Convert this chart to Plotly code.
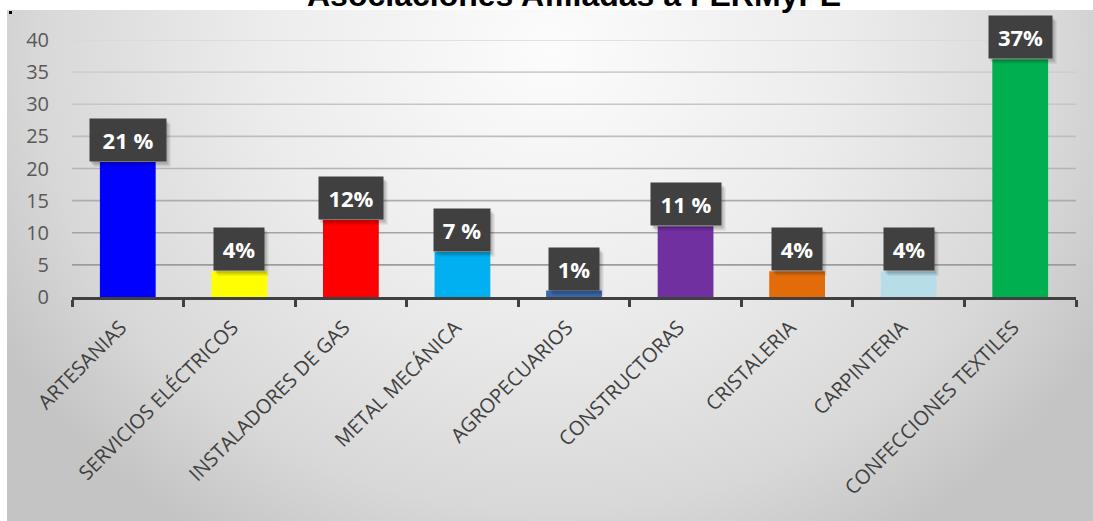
import base64
import plotly.graph_objects as go

# ---- data ----
categories = [
    "ARTESANIAS",
    "SERVICIOS ELÉCTRICOS",
    "INSTALADORES DE GAS",
    "METAL MECÁNICA",
    "AGROPECUARIOS",
    "CONSTRUCTORAS",
    "CRISTALERIA",
    "CARPINTERIA",
    "CONFECCIONES TEXTILES",
]
percentages = [21, 4, 12, 7, 1, 11, 4, 4, 37]
label_gap = [" ", "", "", " ", "", " ", "", "", ""]
y_ticks = [0, 5, 10, 15, 20, 25, 30, 35, 40]
title_text = "Asociaciones Afiliadas a FERMyPE"

# ---- styling ----
bar_colors = ["#0000FF", "#FFFF00", "#FF0000", "#00B0F0", "#3C69AE",
              "#7030A0", "#E36C0A", "#B7DDE8", "#00B050"]
label_box_widths = [76, 50, 64, 56, 50, 70, 50, 50, 63]
LABEL_BOX_H = 42

W, H = 1093, 521
ML, MR, MT, MB = 72, 17, 40, 224
PW, PH = W - ML - MR, H - MT - MB


def paper_x(px):
    return (px - ML) / PW


def paper_y(py):
    return (H - MB - py) / PH


# soft radial backdrop for the chart area
bg_w, bg_h = W - 7, H - 10
svg = f'''<svg xmlns="http://www.w3.org/2000/svg" width="{bg_w}" height="{bg_h}" viewBox="0 0 {bg_w} {bg_h}" preserveAspectRatio="none">
<defs><radialGradient id="g" gradientUnits="userSpaceOnUse" cx="{bg_w/2}" cy="40" r="640"
 gradientTransform="translate({bg_w/2} 40) scale(1 0.9) translate({-bg_w/2} -40)">
<stop offset="0" stop-color="#fcfcfc"/>
<stop offset="0.45" stop-color="#ececec"/>
<stop offset="0.8" stop-color="#d8d8d8"/>
<stop offset="1" stop-color="#c4c4c4"/>
</radialGradient></defs>
<rect x="0" y="0" width="{bg_w}" height="{bg_h}" fill="url(#g)"/>
</svg>'''
bg_src = "data:image/svg+xml;base64," + base64.b64encode(svg.encode()).decode()

fig = go.Figure()
fig.add_trace(go.Bar(
    x=categories,
    y=percentages,
    marker=dict(color=bar_colors, line=dict(width=0)),
    hoverinfo="skip",
))

shapes = []
# horizontal gridlines, lighter toward the top
for i, t in enumerate(y_ticks[1:]):
    frac = i / (len(y_ticks) - 2)
    g = int(0x9c + (0xd8 - 0x9c) * frac)
    shapes.append(dict(
        type="line", xref="paper", yref="y", x0=0, x1=1, y0=t, y1=t,
        line=dict(color=f"rgb({g},{g},{g})", width=1.6), layer="below",
    ))
# small marker dot in the corner of the chart area
shapes.append(dict(
    type="rect", xref="paper", yref="paper",
    x0=paper_x(9), x1=paper_x(12), y0=paper_y(14), y1=paper_y(11),
    fillcolor="#000000", line=dict(width=0),
))

annotations = []
for cat, v, gap, bw in zip(categories, percentages, label_gap, label_box_widths):
    # drop shadow behind the label box
    for dx, dy, a in [(4, -5, 0.10), (2, -3, 0.14)]:
        annotations.append(dict(
            x=cat, y=v, xref="x", yref="y", text="", showarrow=False,
            xanchor="center", yanchor="bottom", xshift=dx, yshift=dy,
            width=bw, height=LABEL_BOX_H, borderpad=0,
            bgcolor=f"rgba(0,0,0,{a})",
        ))
    annotations.append(dict(
        x=cat, y=v, xref="x", yref="y", text=f"{v}{gap}%", showarrow=False,
        xanchor="center", yanchor="bottom",
        width=bw, height=LABEL_BOX_H, borderpad=0, valign="middle",
        bgcolor="#404040",
        font=dict(family="Open Sans", size=22, color="#ffffff", weight=700),
    ))

# title, partly cut off by the top edge
annotations.append(dict(
    x=0.5, y=paper_y(15), xref="paper", yref="paper", text=f"<b>{title_text}</b>",
    showarrow=False, xanchor="center", yanchor="bottom",
    font=dict(family="Liberation Sans", size=32, color="#000000"),
))

fig.update_layout(
    width=W, height=H,
    margin=dict(l=ML, r=MR, t=MT, b=MB, pad=0),
    paper_bgcolor="#ffffff",
    plot_bgcolor="rgba(0,0,0,0)",
    showlegend=False,
    bargap=0.5,
    shapes=shapes,
    annotations=annotations,
    images=[dict(
        source=bg_src, xref="paper", yref="paper",
        x=paper_x(7), y=paper_y(10), sizex=bg_w / PW, sizey=bg_h / PH,
        xanchor="left", yanchor="top", sizing="stretch", layer="below",
    )],
    xaxis=dict(
        showgrid=False, zeroline=False,
        showline=True, linecolor="#404040", linewidth=3,
        ticks="outside", tickson="boundaries", ticklen=7, tickwidth=3,
        tickcolor="#404040", tickangle=-45,
        ticklabelstandoff=8, ticklabelshift=-7,
        tickfont=dict(family="Open Sans", size=20, color="#404040"),
    ),
    yaxis=dict(
        range=[0, 40], tickvals=y_ticks, showgrid=False, zeroline=False,
        showline=False, ticks="", ticklabelstandoff=22,
        tickfont=dict(family="Open Sans", size=20, color="#595959"),
    ),
)

fig.write_html("out.html")
